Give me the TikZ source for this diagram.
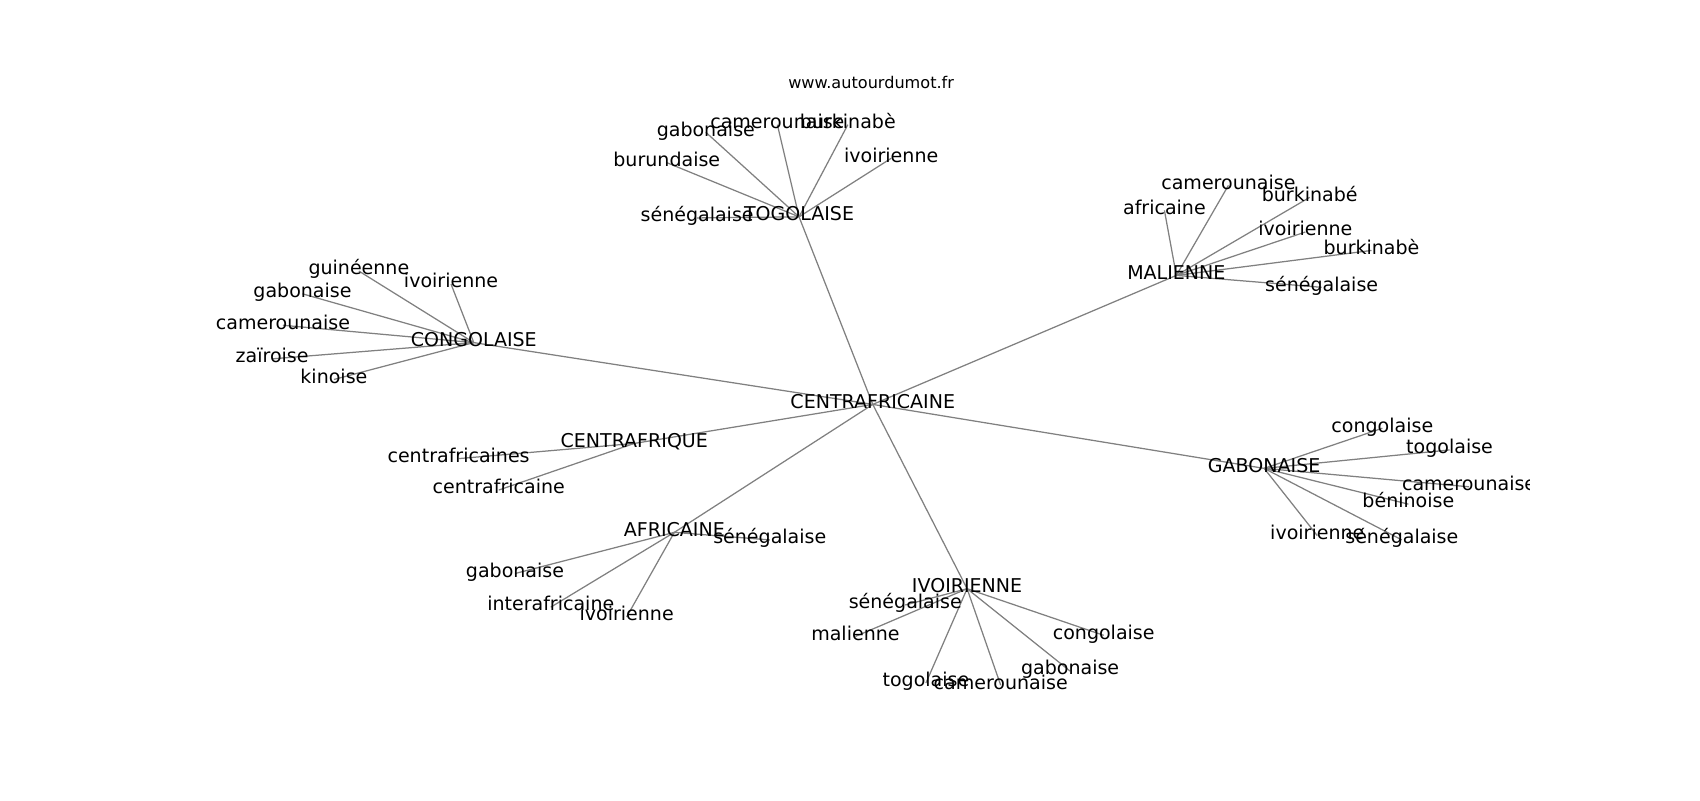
\documentclass[tikz,border=0pt]{standalone}
\usepackage{fontspec}
\setmainfont{DejaVu Sans}
\pgfdeclarelayer{edges}
\pgfsetlayers{edges,main}
\begin{document}
\begin{tikzpicture}[x=0.7806pt,y=-0.7806pt,
  lbl/.style={inner sep=0pt,anchor=center,text height=0.76em,text depth=0.21em,font=\fontsize{13.7}{16}\selectfont},
  edge/.style={draw=black!50,line width=0.9pt}]
\useasboundingbox (0,0) rectangle (1568,738);
\node[inner sep=0pt,anchor=base,font=\fontsize{11.6}{14}\selectfont] (title) at (803.5,81.5) {www.autourdumot.fr};
\begin{scope}
\clip (196,88.5) rectangle (1411,656.7);
\begin{scope}[shift={(0,2)}]
% hubs
\node[lbl] (c)  at (805,371) {CENTRAFRICAINE};
\node[lbl] (tg) at (737,198) {TOGOLAISE};
\node[lbl] (ml) at (1085,252) {MALIENNE};
\node[lbl] (cg) at (437,314) {CONGOLAISE};
\node[lbl] (gb) at (1166,430) {GABONAISE};
\node[lbl] (cf) at (585,407) {CENTRAFRIQUE};
\node[lbl] (af) at (622,489) {AFRICAINE};
\node[lbl] (iv) at (892,541) {IVOIRIENNE};
% TOGOLAISE children
\node[lbl] (tg1) at (643,199) {sénégalaise};
\node[lbl] (tg2) at (615,148) {burundaise};
\node[lbl] (tg3) at (651,120) {gabonaise};
\node[lbl] (tg4) at (717,113) {camerounaise};
\node[lbl] (tg5) at (782,113) {burkinabè};
\node[lbl] (tg6) at (822,144) {ivoirienne};
% MALIENNE children
\node[lbl] (ml1) at (1074,192) {africaine};
\node[lbl] (ml2) at (1133,169) {camerounaise};
\node[lbl] (ml3) at (1208,180) {burkinabé};
\node[lbl] (ml4) at (1204,212) {ivoirienne};
\node[lbl] (ml5) at (1265,229) {burkinabè};
\node[lbl] (ml6) at (1219,263) {sénégalaise};
% CONGOLAISE children
\node[lbl] (cg1) at (331,248) {guinéenne};
\node[lbl] (cg2) at (416,260) {ivoirienne};
\node[lbl] (cg3) at (279,269) {gabonaise};
\node[lbl] (cg4) at (261,298) {camerounaise};
\node[lbl] (cg5) at (251,329) {zaïroise};
\node[lbl] (cg6) at (308,348) {kinoise};
% GABONAISE children
\node[lbl] (gb1) at (1275,393) {congolaise};
\node[lbl] (gb2) at (1337,413) {togolaise};
\node[lbl] (gb3) at (1355,447) {camerounaise};
\node[lbl] (gb4) at (1299,463) {béninoise};
\node[lbl] (gb5) at (1215,492) {ivoirienne};
\node[lbl] (gb6) at (1293,496) {sénégalaise};
% CENTRAFRIQUE children
\node[lbl] (cf1) at (423,421) {centrafricaines};
\node[lbl] (cf2) at (460,450) {centrafricaine};
% AFRICAINE children
\node[lbl] (af1) at (710,496) {sénégalaise};
\node[lbl] (af2) at (475,527) {gabonaise};
\node[lbl] (af3) at (508,558) {interafricaine};
\node[lbl] (af4) at (578,567) {ivoirienne};
% IVOIRIENNE children
\node[lbl] (iv1) at (835,556) {sénégalaise};
\node[lbl] (iv2) at (789,585) {malienne};
\node[lbl] (iv3) at (1018,584) {congolaise};
\node[lbl] (iv4) at (987,617) {gabonaise};
\node[lbl] (iv5) at (854,628) {togolaise};
\node[lbl] (iv6) at (923,630) {camerounaise};
\end{scope}
\end{scope}
\begin{pgfonlayer}{edges}
\foreach \h in {tg,ml,cg,gb,cf,af,iv} \draw[edge] (c.center) -- (\h.center);
\foreach \i in {1,...,6} {
  \draw[edge] (tg.center) -- (tg\i.center);
  \draw[edge] (ml.center) -- (ml\i.center);
  \draw[edge] (cg.center) -- (cg\i.center);
  \draw[edge] (gb.center) -- (gb\i.center);
  \draw[edge] (iv.center) -- (iv\i.center);
}
\foreach \i in {1,2} \draw[edge] (cf.center) -- (cf\i.center);
\foreach \i in {1,...,4} \draw[edge] (af.center) -- (af\i.center);
\end{pgfonlayer}
\end{tikzpicture}
\end{document}
